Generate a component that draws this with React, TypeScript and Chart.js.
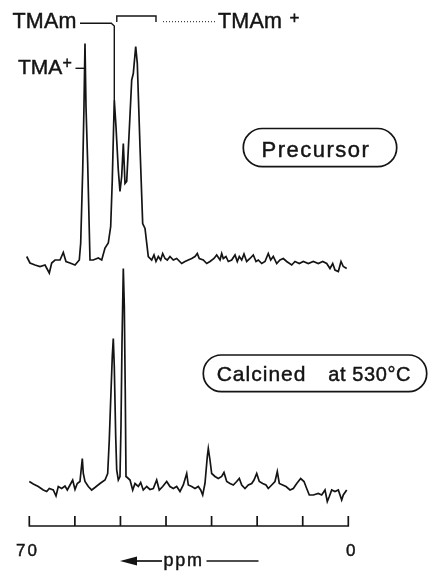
import React, { useEffect, useRef } from "react";
import { Chart, registerables } from "chart.js";

Chart.register(...registerables);

// 13C NMR spectra: chemical shift (ppm) and relative intensity
const PRECURSOR_PPM = [
  70.57, 69.85, 68.75, 67.65, 66.55, 65.61, 65.09, 64.36, 63.26, 62.54, 61.95, 61.07, 59.97, 59.03,
  58.72, 58.28, 58.0, 57.78, 57.56, 57.19, 56.68, 55.96, 54.86, 54.11, 53.39, 52.67, 52.14, 51.79,
  51.35, 50.98, 50.47, 50.1, 49.73, 49.37, 49.0, 48.63, 48.06, 47.53, 47.18, 46.65, 46.3, 45.71,
  45.12, 44.61, 43.89, 43.14, 42.64, 42.2, 41.69, 41.17, 40.73, 40.22, 39.72, 39.13, 38.4, 37.66,
  36.56, 35.84, 35.11, 34.36, 33.64, 33.14, 32.7, 31.82, 31.07, 30.35, 29.47, 28.88, 28.15, 27.78,
  27.43, 26.84, 26.33, 25.59, 24.86, 24.36, 23.92, 23.39, 22.89, 22.3, 21.57, 20.85, 20.25, 19.75,
  19.0, 18.28, 17.56, 17.03, 16.46, 15.71, 14.99, 14.26, 13.52, 12.42, 11.7, 10.75, 9.87, 8.78,
  7.68, 6.58, 5.62, 4.74, 4.02, 3.42, 2.92, 2.19, 1.6, 1.1, 0.35,
];
const PRECURSOR_INT = [
  1.7, 0.4, 0, -0.3, 0, -1.6, 0.4, 1.0, 1.0, 2.5, 0.7, 0.4, 0, 1.0,
  4.4, 19, 31.7, 44.3, 31.7, 20.4, 1.0, 1.0, 1.4, 1.0, 3.4, 4.4, 7.7, 17,
  33, 27.7, 19, 14.7, 17.7, 24.3, 16.3, 16.7, 27, 37, 38.3, 43.7, 40.3, 23.7,
  8.3, 7.3, 1.7, 1.0, 2.0, 0.7, 1.7, 1.0, 2.3, 1.3, 1.0, 1.7, 1.0, 1.3,
  0.3, 0.7, 1.0, 1.3, 1.7, 2.3, 1.3, 1.0, 0.3, 0.7, 1.3, 2.0, 1.0, 2.3,
  1.3, 1.7, 0.7, 1.0, 2.0, 0.7, 1.7, 1.0, 2.2, 0.7, 1.3, 2.0, 0.7, 1.0,
  0.3, 0.7, 2.3, 1.0, 1.7, 0.3, 1.0, 1.3, 0.7, 0, 0.7, 0.3, 0.7, 0.3,
  0.7, 0.3, 0.7, 0.3, -0.7, 0.3, -1.0, -1.3, 0.7, -0.3, -0.7,
];

const CALCINED_PPM = [
  70.0, 69.12, 68.03, 66.93, 66.18, 65.61, 64.74, 64.14, 63.64, 62.89, 62.17, 61.66, 61.07, 60.48,
  59.97, 59.47, 58.88, 58.37, 58.15, 57.78, 57.05, 56.31, 55.59, 54.49, 53.39, 52.8, 52.45, 52.14,
  51.79, 51.57, 51.35, 51.04, 50.82, 50.47, 50.1, 49.88, 49.66, 49.37, 49.15, 48.94, 48.78, 48.5,
  47.9, 47.31, 46.81, 46.08, 45.56, 44.99, 44.24, 43.52, 42.79, 42.05, 41.48, 40.73, 39.85, 39.13,
  38.4, 37.66, 36.93, 36.21, 35.46, 35.11, 34.36, 33.64, 32.92, 32.39, 31.95, 31.45, 30.94, 30.72,
  30.35, 29.98, 29.25, 28.53, 27.78, 27.28, 26.68, 25.96, 25.24, 24.49, 23.92, 23.39, 22.67, 21.94,
  21.2, 20.69, 20.1, 19.53, 18.78, 18.06, 17.56, 16.81, 16.09, 15.58, 15.14, 14.4, 13.67, 12.79,
  12.07, 11.32, 10.45, 9.72, 9.13, 8.56, 7.68, 6.58, 5.84, 5.11, 4.61, 4.17, 3.64, 2.92, 2.19,
  1.45, 1.1, 0.35,
];
const CALCINED_INT = [
  0.7, 0.2, -0.3, -1.0, -1.3, -0.7, -1.0, -2.2, -0.3, -0.7, -0.2, -1.0, 0, 1.0,
  -0.9, 0.3, 0.7, 5.3, 2.3, 0.7, -0.3, -1.0, -0.5, 0.3, 1.0, 2.3, 9.0, 17,
  25.7, 29.3, 23.7, 9.7, 3.0, 1.0, 1.7, 11.7, 28.3, 43.3, 35.7, 18.3, 1.7, 1.5,
  1.0, -1.0, 0.3, -0.3, 0.5, -1.0, -0.3, -0.9, -0.7, 1.0, -1.0, -0.3, 0.7, -0.3,
  -0.7, -0.3, -1.3, 0, 2.3, 0, -0.3, -0.7, -0.3, -1.0, -2.0, 0.3, 5.7, 7.3,
  5.0, 2.3, 1.7, 1.3, 1.7, 2.5, 0.7, 0.3, 0, 0.7, 1.3, 0, -0.7, 0,
  0.3, 1.0, 2.3, 0.7, 0.3, 0, -0.7, 0, 0.7, 2.7, 0.3, 0, -0.3, -1.0,
  -0.7, 0.3, 1.3, 0.7, -0.7, -2.0, -2.0, -1.7, -2.0, -1.0, -3.3, -2.3, -1.0, -1.3, -1.0,
  -3.0, -2.0, -1.0,
];

const PRECURSOR_OFFSET = 44;
const AXIS_TICKS = [70, 60, 50, 40, 30, 20, 10, 0];
const AXIS_TICK_LABELS = [70, 0];

const INK = "#141414";
const FONT = '"Liberation Sans", Arial, Helvetica, sans-serif';

function drawText(
  ctx: CanvasRenderingContext2D,
  text: string,
  x: number,
  y: number,
  size: number,
  spacing = 0,
  align: CanvasTextAlign = "left"
) {
  ctx.font = `${size}px ${FONT}`;
  (ctx as any).letterSpacing = `${spacing}px`;
  ctx.textAlign = align;
  ctx.textBaseline = "alphabetic";
  ctx.fillText(text, x, y);
  ctx.lineWidth = 0.45;
  ctx.strokeText(text, x, y);
  (ctx as any).letterSpacing = "0px";
}

const annotations = {
  id: "annotations",
  afterDraw(chart: any) {
    const ctx = chart.ctx as CanvasRenderingContext2D;
    const xs = chart.scales.x;
    const ys = chart.scales.y;
    ctx.save();
    ctx.strokeStyle = INK;
    ctx.fillStyle = INK;
    ctx.lineCap = "butt";

    // ppm axis with upward ticks
    const yAxis = 526;
    ctx.lineWidth = 1.7;
    ctx.beginPath();
    ctx.moveTo(xs.getPixelForValue(70) - 0.8, yAxis);
    ctx.lineTo(xs.getPixelForValue(0) + 0.8, yAxis);
    for (const t of AXIS_TICKS) {
      const px = xs.getPixelForValue(t);
      ctx.moveTo(px, yAxis);
      ctx.lineTo(px, yAxis - 10);
    }
    ctx.stroke();

    for (const t of AXIS_TICK_LABELS) {
      const px = xs.getPixelForValue(t) + (t === 0 ? 2.5 : -1.8);
      drawText(ctx, String(t), px, 555.5, 17, t === 0 ? 0 : 2, "center");
    }

    // <-- ppm ---
    ctx.beginPath();
    ctx.moveTo(120, 561);
    ctx.lineTo(137, 556.5);
    ctx.lineTo(137, 565.5);
    ctx.closePath();
    ctx.fill();
    ctx.lineWidth = 1.7;
    ctx.beginPath();
    ctx.moveTo(136, 561);
    ctx.lineTo(162, 561);
    ctx.stroke();
    drawText(ctx, "ppm", 163.5, 565.5, 18, 1.8);
    ctx.lineWidth = 1.3;
    ctx.beginPath();
    ctx.moveTo(206.5, 561);
    ctx.lineTo(258.5, 561);
    ctx.stroke();

    // Peak labels
    drawText(ctx, "TMAm", 12.5, 27.5, 21.5, 0.2);
    const xTMAm = xs.getPixelForValue(51.35);
    const yTMAmTop = ys.getPixelForValue(33 + PRECURSOR_OFFSET);
    ctx.lineWidth = 1.4;
    ctx.beginPath();
    ctx.moveTo(80, 23.3);
    ctx.lineTo(xTMAm - 3, 23.3);
    ctx.lineTo(xTMAm, 26);
    ctx.lineTo(xTMAm, yTMAmTop);
    ctx.stroke();

    // bracket over the TMAm+ region
    const b1 = xs.getPixelForValue(50.8);
    const b2 = xs.getPixelForValue(42.2);
    ctx.beginPath();
    ctx.moveTo(b1, 22);
    ctx.lineTo(b1, 16);
    ctx.lineTo(b2, 16);
    ctx.lineTo(b2, 22);
    ctx.stroke();
    ctx.setLineDash([1, 2]);
    ctx.lineWidth = 1;
    ctx.beginPath();
    ctx.moveTo(163, 21.7);
    ctx.lineTo(217, 21.7);
    ctx.stroke();
    ctx.setLineDash([]);

    drawText(ctx, "TMAm", 218, 27.5, 21.5, 0.2);
    drawText(ctx, "+", 289.5, 23, 17);

    drawText(ctx, "TMA", 18, 74, 21, 0);
    drawText(ctx, "+", 62.5, 67.5, 16);
    ctx.lineWidth = 1.4;
    ctx.beginPath();
    ctx.moveTo(75.5, 68.3);
    ctx.lineTo(xs.getPixelForValue(57.9), 68.3);
    ctx.stroke();

    // Sample boxes
    ctx.lineWidth = 1.7;
    ctx.beginPath();
    (ctx as any).roundRect(243.3, 128.5, 153.4, 38.2, 19);
    ctx.stroke();
    drawText(ctx, "Precursor", 261.5, 156.7, 22, 1.5);

    ctx.lineWidth = 1.7;
    ctx.beginPath();
    (ctx as any).roundRect(203.3, 355, 223.4, 36.7, 18);
    ctx.stroke();
    drawText(ctx, "Calcined", 216.7, 380.7, 21, 1);
    drawText(ctx, "at 530°C", 328.3, 380.7, 20, 0.6);

    ctx.restore();
  },
};

export default function App() {
  const canvasRef = useRef<HTMLCanvasElement | null>(null);

  useEffect(() => {
    if (!canvasRef.current) return;
    const precursor = PRECURSOR_PPM.map((x, i) => ({ x, y: PRECURSOR_INT[i] + PRECURSOR_OFFSET }));
    const calcined = CALCINED_PPM.map((x, i) => ({ x, y: CALCINED_INT[i] }));
    const chart = new Chart(canvasRef.current, {
      type: "line",
      data: {
        datasets: [
          {
            label: "Precursor",
            data: precursor,
            borderColor: INK,
            borderWidth: 1.7,
            pointRadius: 0,
            tension: 0,
            fill: false,
            clip: 10,
          } as any,
          {
            label: "Calcined at 530°C",
            data: calcined,
            borderColor: INK,
            borderWidth: 1.7,
            pointRadius: 0,
            tension: 0,
            fill: false,
            clip: 10,
          } as any,
        ],
      },
      options: {
        animation: false,
        responsive: false,
        devicePixelRatio: 1,
        events: [],
        layout: { padding: { left: 29.3, right: 79.7, top: 0, bottom: 44 } },
        plugins: { legend: { display: false }, tooltip: { enabled: false } },
        scales: {
          x: { type: "linear", min: 0, max: 70, reverse: true, display: false },
          y: { type: "linear", min: -8.4, max: 97, display: false },
        },
      },
      plugins: [annotations],
    });
    return () => chart.destroy();
  }, []);

  return (
    <div style={{ position: "absolute", left: 0, top: 0, width: 428, height: 571, background: "#fff" }}>
      <canvas ref={canvasRef} width={428} height={571} style={{ display: "block" }} />
    </div>
  );
}
